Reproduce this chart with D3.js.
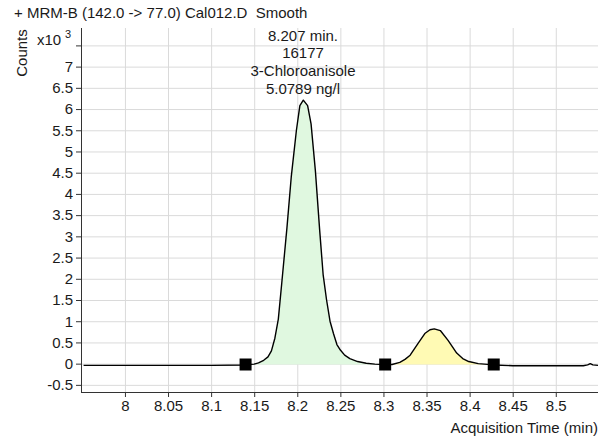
<!DOCTYPE html>
<html>
<head>
<meta charset="utf-8">
<script src="https://cdn.jsdelivr.net/npm/d3@7"></script>
<style>
  body { margin: 0; background: #fff; }
  svg text { font-family: "Liberation Sans", Arial, sans-serif; fill: #1a1a1a; }
  .grid line { stroke: #dadada; stroke-width: 1; }
  .grid path { display: none; }
  .axis path, .axis line { stroke: #333; }
</style>
</head>
<body>
<svg id="chart" width="609" height="441"></svg>
<script>
// chromatogram trace, counts in x10^3
const times = [7.952, 8.000, 8.050, 8.100, 8.140, 8.150, 8.155, 8.161, 8.166, 8.170, 8.174, 8.178,
  8.182, 8.188, 8.193, 8.199, 8.203, 8.207, 8.212, 8.216, 8.221, 8.226, 8.230, 8.234, 8.238,
  8.242, 8.246, 8.250, 8.255, 8.261, 8.270, 8.280, 8.290, 8.302, 8.310, 8.319, 8.325, 8.331,
  8.340, 8.348, 8.354, 8.359, 8.366, 8.375, 8.385, 8.392, 8.399, 8.410, 8.428, 8.450, 8.500,
  8.532, 8.537, 8.540, 8.543, 8.549];
const counts = [-0.04, -0.04, -0.04, -0.04, -0.03, -0.01, 0.02, 0.08, 0.16, 0.30, 0.60, 1.05,
  1.90, 3.20, 4.40, 5.50, 6.08, 6.21, 6.08, 5.65, 4.55, 3.14, 2.10, 1.50, 1.00,
  0.71, 0.45, 0.32, 0.20, 0.12, 0.05, 0.01, -0.01, -0.02, -0.02, 0.03, 0.10, 0.20,
  0.47, 0.71, 0.80, 0.82, 0.78, 0.55, 0.25, 0.12, 0.05, 0.00, -0.03, -0.05, -0.05,
  -0.05, -0.03, 0.00, -0.03, -0.04];

// integration markers (start, split, end)
const markerTimes = [8.140, 8.302, 8.428];
const markerLevel = -0.02;
const peakFills = ['#e0f8e0', '#fffab4'];

const xTicks = [8, 8.05, 8.1, 8.15, 8.2, 8.25, 8.3, 8.35, 8.4, 8.45, 8.5];
const xTickLabels = ['8', '8.05', '8.1', '8.15', '8.2', '8.25', '8.3', '8.35', '8.4', '8.45', '8.5'];
const yTicks = [-0.5, 0, 0.5, 1, 1.5, 2, 2.5, 3, 3.5, 4, 4.5, 5, 5.5, 6, 6.5, 7, 7.5];
const yTickLabels = ['-0.5', '0', '0.5', '1', '1.5', '2', '2.5', '3', '3.5', '4', '4.5', '5', '5.5', '6', '6.5', '7', ''];

const titleText = '+ MRM-B (142.0 -> 77.0) Cal012.D  Smooth';
const peakLabel = ['8.207 min.', '16177', '3-Chloroanisole', '5.0789 ng/l'];

const W = 609, H = 441;
const M = { left: 81, right: 11, top: 28, bottom: 49 };

const svg = d3.select('#chart');
const x = d3.scaleLinear().domain([7.949, 8.549]).range([M.left, W - M.right]);
const y = d3.scaleLinear().domain([-0.668, 7.91]).range([H - M.bottom, M.top]);

const data = times.map((t, i) => ({ t, v: counts[i] }));

// gridlines
svg.append('g').attr('class', 'grid')
  .attr('transform', `translate(0,${H - M.bottom})`)
  .call(d3.axisBottom(x).tickValues(xTicks).tickSize(-(H - M.bottom - M.top)).tickFormat(''));
svg.append('g').attr('class', 'grid')
  .attr('transform', `translate(${M.left},0)`)
  .call(d3.axisLeft(y).tickValues(yTicks).tickSize(-(W - M.right - M.left)).tickFormat(''));

// peak fills between trace and integration baseline
const area = d3.area().x(d => x(d.t)).y0(y(markerLevel)).y1(d => y(d.v));
for (let k = 0; k < markerTimes.length - 1; k++) {
  const a = markerTimes[k], b = markerTimes[k + 1];
  const seg = data.filter(d => d.t >= a && d.t <= b);
  svg.append('path').datum(seg)
    .attr('fill', peakFills[k])
    .attr('d', area);
}

// trace
svg.append('path').datum(data)
  .attr('fill', 'none')
  .attr('stroke', '#000')
  .attr('stroke-width', 1.4)
  .attr('stroke-linejoin', 'round')
  .attr('d', d3.line().x(d => x(d.t)).y(d => y(d.v)));

// markers
svg.selectAll('rect.marker').data(markerTimes).join('rect')
  .attr('class', 'marker')
  .attr('x', d => x(d) - 6).attr('y', y(markerLevel) - 6)
  .attr('width', 12).attr('height', 12)
  .attr('fill', '#000');

// axes
const xAxis = svg.append('g').attr('class', 'axis')
  .attr('transform', `translate(0,${H - M.bottom})`)
  .call(d3.axisBottom(x).tickValues(xTicks).tickSize(5).tickPadding(3)
    .tickFormat((d, i) => xTickLabels[i]));
xAxis.select('.domain').attr('d', `M${M.left},0.5H${W - M.right}`);
xAxis.selectAll('text').style('font-size', '15px').attr('fill', '#1a1a1a');

const yAxis = svg.append('g').attr('class', 'axis')
  .attr('transform', `translate(${M.left},0)`)
  .call(d3.axisLeft(y).tickValues(yTicks).tickSize(5).tickPadding(3)
    .tickFormat((d, i) => yTickLabels[i]));
yAxis.select('.domain').attr('d', `M0.5,${M.top}V${H - M.bottom}`);
yAxis.selectAll('text').style('font-size', '15px').attr('fill', '#1a1a1a');

// titles
svg.append('text').attr('x', 14).attr('y', 18)
  .style('font-size', '15px').style('white-space', 'pre')
  .text(titleText);
svg.append('text')
  .attr('transform', 'translate(27,53) rotate(-90)')
  .attr('text-anchor', 'middle').style('font-size', '15px').text('Counts');
svg.append('text').attr('x', 37).attr('y', 45).style('font-size', '15px').text('x10');
svg.append('text').attr('x', 65).attr('y', 38).style('font-size', '11px').text('3');
svg.append('text').attr('x', W - M.right).attr('y', 433)
  .attr('text-anchor', 'end').style('font-size', '15px').text('Acquisition Time (min)');

// peak annotation
svg.append('g').selectAll('text').data(peakLabel).join('text')
  .attr('x', 303).attr('y', (d, i) => 40.5 + i * 17.7)
  .attr('text-anchor', 'middle').style('font-size', '15px')
  .text(d => d);
</script>
</body>
</html>
